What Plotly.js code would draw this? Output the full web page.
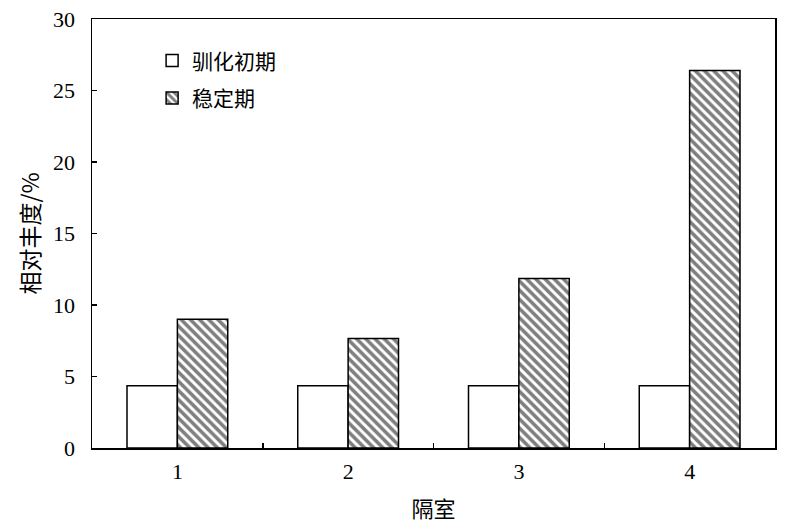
<!DOCTYPE html>
<html>
<head>
<meta charset="utf-8">
<script src="https://cdn.plot.ly/plotly-3.0.1.min.js"></script>
<style>
  html, body { margin: 0; padding: 0; background: #fff; }
  #chart { width: 800px; height: 529px; }
</style>
</head>
<body>
<div id="chart"></div>
<script>
// Данные графика
const compartments = ['1', '2', '3', '4'];
const initialPhase = [4.35, 4.35, 4.35, 4.35];   // 驯化初期
const stablePhase  = [9.0, 7.65, 11.85, 26.4];   // 稳定期

const NUM_FONT = 'Liberation Serif, Times New Roman, serif';
const CJK_FONT = 'Noto Sans CJK SC, sans-serif';

const traces = [
  {
    x: compartments, y: initialPhase, name: '驯化初期', type: 'bar', legendgroup: 'a',
    marker: { color: '#ffffff', line: { color: '#000', width: 1.5 } },
  },
  {
    x: compartments, y: stablePhase, name: '稳定期', type: 'bar', legendgroup: 'b',
    marker: {
      color: '#ffffff',
      line: { color: '#000', width: 1.5 },
      pattern: { shape: '\\', size: 6.5, solidity: 0.55, fgcolor: '#000', bgcolor: '#fff', fillmode: 'overlay' },
    },
  },
];

const layout = {
  width: 800, height: 529,
  margin: { l: 92, r: 25, t: 19, b: 81 },
  paper_bgcolor: '#fff', plot_bgcolor: '#fff',
  barmode: 'group', bargap: 0.41, bargroupgap: 0,
  showlegend: true,
  legend: {
    x: 0.088, y: 0.95, xanchor: 'left', yanchor: 'top',
    bgcolor: 'rgba(0,0,0,0)',
    font: { family: CJK_FONT, size: 21, color: '#000' },
    tracegroupgap: 7,
    itemwidth: 30,
  },
  xaxis: {
    type: 'category',
    tickson: 'boundaries',
    ticks: 'inside', ticklen: 5, tickcolor: '#000', tickwidth: 1.5,
    ticklabelstandoff: 3,
    showline: true, linecolor: '#000', linewidth: 1.5, mirror: true,
    showgrid: false, zeroline: false,
    tickfont: { family: NUM_FONT, size: 22, color: '#000' },
    title: { text: '隔室', font: { family: CJK_FONT, size: 22, color: '#000' }, standoff: 18 },
  },
  yaxis: {
    range: [0, 30], dtick: 5,
    ticks: 'inside', ticklen: 5, tickcolor: '#000', tickwidth: 1.5,
    ticklabelstandoff: 11,
    showline: true, linecolor: '#000', linewidth: 1.5, mirror: true,
    showgrid: false, zeroline: false,
    tickfont: { family: NUM_FONT, size: 22, color: '#000' },
    title: { text: '相对丰度/%', font: { family: CJK_FONT, size: 23, color: '#000' }, standoff: 7 },
  },
};

Plotly.newPlot('chart', traces, layout, { displayModeBar: false, staticPlot: true });
</script>
</body>
</html>
